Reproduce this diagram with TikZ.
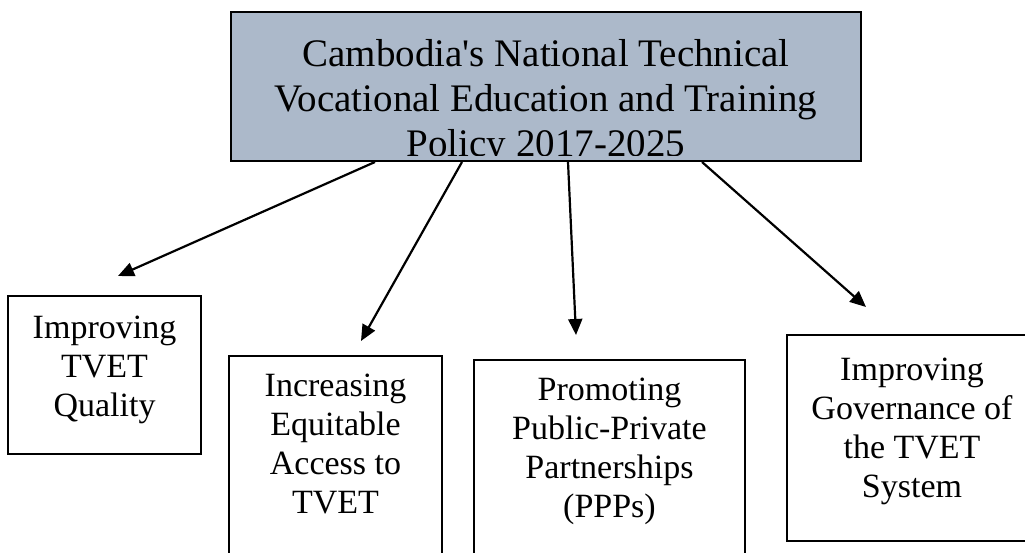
\documentclass[tikz,border=0pt]{standalone}
\usepackage{fontspec}
\setmainfont{Liberation Serif}
\usetikzlibrary{arrows.meta}
\definecolor{policyc}{HTML}{ACB9CA}
\tikzset{
  policybox/.style={draw=black, fill=policyc, line width=2pt, minimum width=630pt, minimum height=149pt, inner sep=0pt},
  policytext/.style={align=center, inner sep=0pt, anchor=north, font=\fontsize{39}{45}\selectfont},
  goalbox/.style={draw=black, line width=2pt, inner sep=0pt},
  goaltext/.style={align=center, inner sep=0pt, anchor=north, font=\fontsize{34}{39}\selectfont},
  link/.style={-{Triangle[length=16pt,width=14pt]}, line width=2.2pt},
}

\begin{document}
\begin{tikzpicture}[x=1pt,y=1pt]
\clip (0,0) rectangle (1025,553);
\node[policybox] (policy) at (546,466.5) {};
\begin{scope}
\clip ([yshift=6pt]policy.south west) rectangle (policy.north east);
\node[policytext] (title) at ([yshift=-28pt]policy.north) {Cambodia\textquotesingle s National Technical\\Vocational Education and Training\\Policy 2017-2025};
\end{scope}
\node[goalbox, minimum width=193pt, minimum height=158pt] (quality) at (104.5,178) {};
\node[goalbox, minimum width=213pt, minimum height=215pt] (access) at (335.5,89.5) {};
\node[goalbox, minimum width=271pt, minimum height=215pt] (partner) at (609.5,85.5) {};
\node[goalbox, minimum width=250pt, minimum height=206pt] (governance) at (912,115) {};
\node[goaltext] (qualitytext) at ([yshift=-21pt]quality.north) {Improving\\TVET\\Quality};
\node[goaltext] (accesstext) at ([yshift=-19pt]access.north) {Increasing\\Equitable\\Access to\\TVET};
\node[goaltext] (partnertext) at ([yshift=-19pt]partner.north) {Promoting\\Public-Private\\Partnerships\\(PPPs)};
\node[goaltext] (governancetext) at ([yshift=-24pt]governance.north) {Improving\\Governance of\\the TVET\\System};
\draw[link] ([xshift=-171pt]policy.south) -- ([xshift=13.5pt,yshift=19pt]quality.north);
\draw[link] ([xshift=-84pt]policy.south) -- ([xshift=25.5pt,yshift=14pt]access.north);
\draw[link] ([xshift=22pt]policy.south) -- ([xshift=-33.5pt,yshift=24pt]partner.north);
\draw[link] ([xshift=156pt]policy.south) -- ([xshift=-46pt,yshift=27pt]governance.north);
\end{tikzpicture}
\end{document}
